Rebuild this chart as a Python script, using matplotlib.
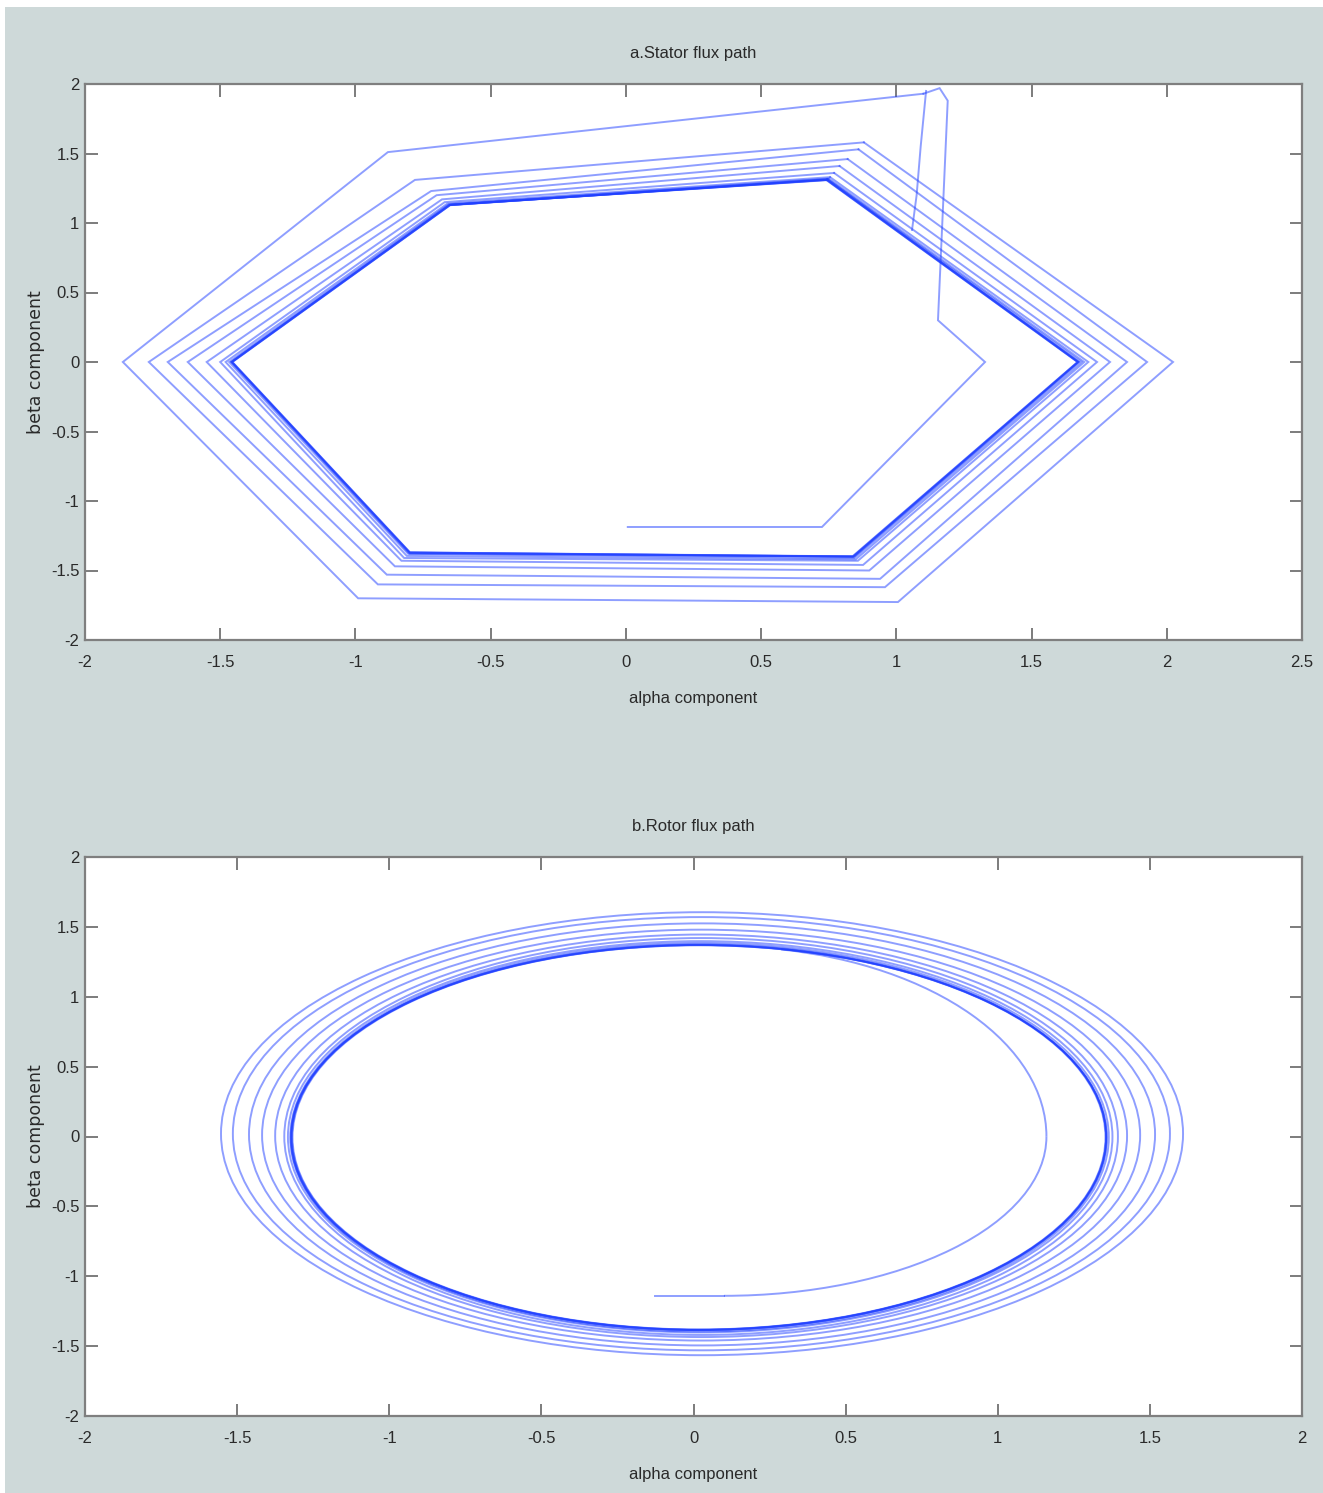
import matplotlib
matplotlib.use('Agg')
import matplotlib.pyplot as plt
from matplotlib.patches import Ellipse, Arc, Rectangle

FIG_BG = '#ced9d9'
LINE = '#1f3fff'
FRAME = '#7f7f7f'
TXT = ['Liberation Sans', 'DejaVu Sans']

# ---- stator flux path (alpha, beta) ----
# start-up transient up to the top of the plot
stator_start_alpha = [0.007, 0.725, 1.328, 1.154, 1.19, 1.16, 1.10]
stator_start_beta = [-1.187, -1.187, 0.0, 0.30, 1.88, 1.97, 1.93]
# short branch coming down from the top
stator_branch_alpha = [1.11, 1.09, 1.075, 1.058]
stator_branch_beta = [1.95, 1.55, 1.20, 0.95]
# hexagonal loops: UL, L, LL, LR, R, UR per turn
stator_alpha = [1.10,
                -0.88, -1.86, -0.99, 1.006, 2.023, 0.88,
                -0.78, -1.764, -0.917, 0.958, 1.927, 0.86,
                -0.72, -1.694, -0.884, 0.94, 1.853, 0.82,
                -0.70, -1.62, -0.854, 0.90, 1.79, 0.79,
                -0.68, -1.55, -0.83, 0.877, 1.742, 0.77,
                -0.67, -1.50, -0.82, 0.858, 1.71, 0.755,
                -0.66, -1.48, -0.81, 0.85, 1.695, 0.75,
                -0.655, -1.467, -0.805, 0.845, 1.685, 0.747,
                -0.65, -1.457, -0.80, 0.84, 1.672, 0.743,
                -0.655, -1.46, -0.80, 0.845, 1.675, 0.745,
                -0.65, -1.455, -0.798, 0.838, 1.67, 0.742,
                -0.652, -1.458, -0.80, 0.842, 1.674, 0.744,
                -0.65, -1.456, -0.799, 0.84, 1.671, 0.743,
                -0.65]
stator_beta = [1.93,
               1.51, 0.0, -1.70, -1.727, 0.0, 1.58,
               1.31, 0.0, -1.60, -1.62, 0.0, 1.53,
               1.23, 0.0, -1.53, -1.56, 0.0, 1.46,
               1.20, 0.0, -1.47, -1.50, 0.0, 1.41,
               1.17, 0.0, -1.43, -1.46, 0.0, 1.36,
               1.15, 0.0, -1.41, -1.43, 0.0, 1.33,
               1.14, 0.0, -1.395, -1.42, 0.0, 1.32,
               1.135, 0.0, -1.38, -1.41, 0.0, 1.315,
               1.13, 0.0, -1.37, -1.40, 0.0, 1.31,
               1.13, 0.0, -1.38, -1.40, 0.0, 1.315,
               1.128, 0.0, -1.37, -1.398, 0.0, 1.308,
               1.13, 0.0, -1.372, -1.40, 0.0, 1.312,
               1.13, 0.0, -1.371, -1.399, 0.0, 1.31,
               1.13]

# ---- rotor flux path: elliptical turns ----
rotor_cx = [0.028, 0.026, 0.028, 0.025, 0.025, 0.025, 0.022, 0.02, 0.018, 0.017, 0.018, 0.017, 0.018]
rotor_cy = [0.02, 0.02, 0.015, 0.01, 0.005, 0.0, -0.002, -0.005, -0.005, -0.007, -0.006, -0.006, -0.007]
rotor_a = [1.581, 1.540, 1.489, 1.443, 1.400, 1.370, 1.355, 1.345, 1.338, 1.341, 1.336, 1.339, 1.340]
rotor_b = [1.585, 1.55, 1.51, 1.47, 1.44, 1.42, 1.40, 1.39, 1.38, 1.378, 1.375, 1.377, 1.376]
# start-up transient: straight piece, lower quarter turn, upper turn joining the ring
rotor_start_alpha = [-0.126, 0.10]
rotor_start_beta = [-1.14, -1.14]
rotor_arc_low = dict(cx=0.10, cy=0.0, a=1.06, b=1.14, t1=-90, t2=0)
rotor_arc_up = dict(cx=0.10, cy=0.0, a=1.06, b=1.36, t1=0, t2=82)

x_ticks_top = [-2, -1.5, -1, -0.5, 0, 0.5, 1, 1.5, 2, 2.5]
x_ticks_bottom = [-2, -1.5, -1, -0.5, 0, 0.5, 1, 1.5, 2]
y_ticks = [-2, -1.5, -1, -0.5, 0, 0.5, 1, 1.5, 2]


def style_axes(ax, xticks, title):
    ax.set_facecolor('white')
    for sp in ax.spines.values():
        sp.set_color(FRAME)
        sp.set_linewidth(1.6)
    ax.set_xticks(xticks)
    ax.set_xticklabels(['%g' % v for v in xticks], family=TXT, fontsize=12)
    ax.set_yticks(y_ticks)
    ax.set_yticklabels(['%g' % v for v in y_ticks], family=TXT, fontsize=12)
    ax.tick_params(direction='in', length=9, width=1.2, color='#666666',
                   top=True, right=True, labelcolor='#2a2a2a')
    ax.tick_params(axis='x', pad=11)
    ax.tick_params(axis='y', pad=4)
    ax.set_title(title, family=TXT, fontsize=12, color='#2a2a2a', pad=19)
    ax.set_xlabel('alpha component', family=TXT, fontsize=12, color='#2a2a2a', labelpad=15)
    ax.set_ylabel('beta component', fontsize=12.5, color='#2a2a2a', labelpad=4)


fig = plt.figure(figsize=(13.23, 14.93), dpi=100, facecolor='white')
fig.patches.append(Rectangle((5 / 1323, 0), 1, 1 - 7 / 1493, transform=fig.transFigure,
                             facecolor=FIG_BG, edgecolor='none', zorder=-10))

ax1 = fig.add_axes([85 / 1323, 853 / 1493, 1217 / 1323, 556 / 1493])
ax2 = fig.add_axes([85 / 1323, 77 / 1493, 1217 / 1323, 559 / 1493])

# stator: draw every turn on its own so overlapping turns get darker
kw = dict(color=LINE, alpha=0.5, lw=1.4, solid_joinstyle='miter')
ax1.plot(stator_start_alpha, stator_start_beta, **kw)
ax1.plot(stator_branch_alpha, stator_branch_beta, **kw)
for i in range(0, len(stator_alpha) - 1, 6):
    ax1.plot(stator_alpha[i:i + 7], stator_beta[i:i + 7], **kw)
ax1.set_xlim(-2, 2.5)
ax1.set_ylim(-2, 2)
style_axes(ax1, x_ticks_top, 'a.Stator flux path')

# rotor
for cx, cy, a, b in zip(rotor_cx, rotor_cy, rotor_a, rotor_b):
    ax2.add_patch(Ellipse((cx, cy), 2 * a, 2 * b, fill=False, edgecolor=LINE, alpha=0.5, lw=1.4))
ax2.plot(rotor_start_alpha, rotor_start_beta, color=LINE, alpha=0.5, lw=1.4)
for arc in (rotor_arc_low, rotor_arc_up):
    ax2.add_patch(Arc((arc['cx'], arc['cy']), 2 * arc['a'], 2 * arc['b'],
                      theta1=arc['t1'], theta2=arc['t2'], edgecolor=LINE, alpha=0.5, lw=1.4))
ax2.set_xlim(-2, 2)
ax2.set_ylim(-2, 2)
style_axes(ax2, x_ticks_bottom, 'b.Rotor flux path')

fig.savefig('out.png', dpi=100, facecolor=fig.get_facecolor())
